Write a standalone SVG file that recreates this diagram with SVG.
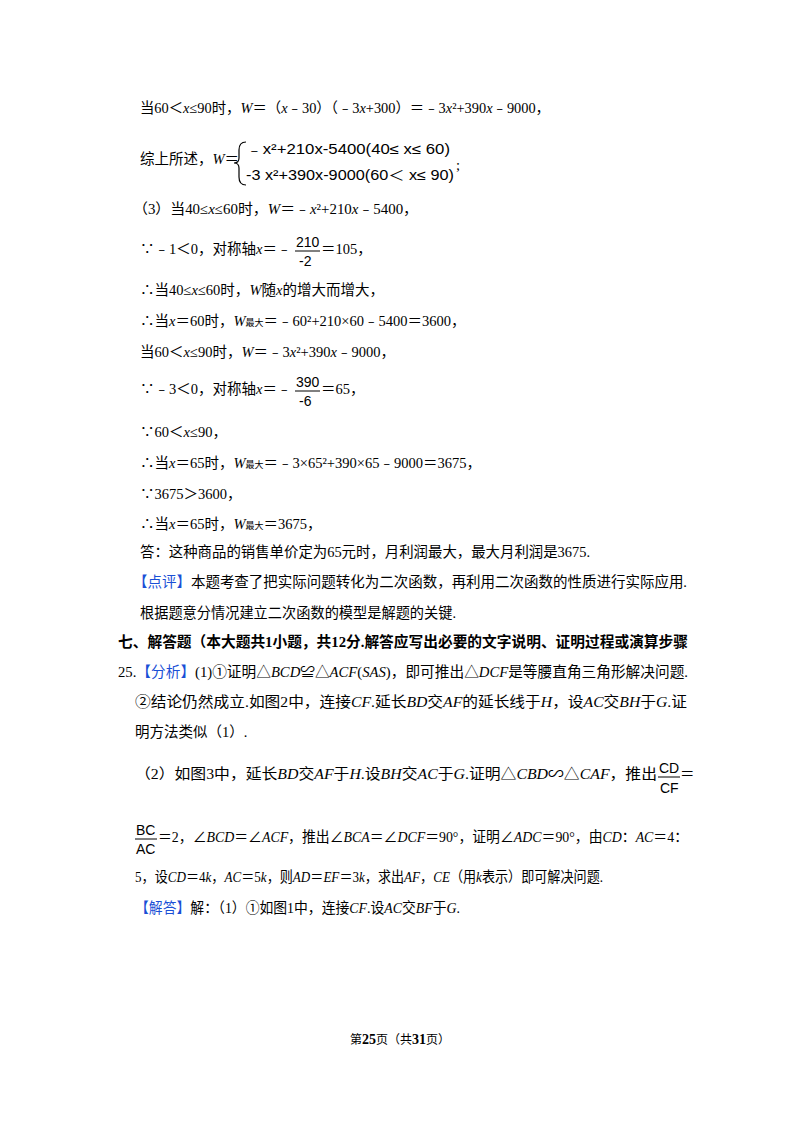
<svg xmlns="http://www.w3.org/2000/svg" width="800" height="1132" viewBox="0 0 800 1132">
<style>
text{font-family:"Liberation Serif","Noto Sans CJK SC",serif;font-size:14.5px;fill:#000}
.i{font-style:italic}
.s{font-size:9px}
.r{fill:#1a4fd6}
.b{font-weight:bold}
.f{font-family:"Liberation Sans","Noto Sans CJK SC",sans-serif;font-size:14px}
</style>
<rect width="800" height="1132" fill="#fff"/>
<g id="text">
<text x="140" y="113" textLength="410" lengthAdjust="spacingAndGlyphs">当60＜<tspan class="i">x</tspan>≤90时，<tspan class="i">W</tspan>＝（<tspan class="i">x</tspan>﹣30）（﹣3<tspan class="i">x</tspan>+300）＝﹣3<tspan class="i">x</tspan>²+390<tspan class="i">x</tspan>﹣9000，</text>
<text x="140" y="164">综上所述，<tspan class="i">W</tspan>＝</text>
<path d="M246 142 Q239 142 239 150 L239 158 Q239 163 234 163 Q239 163 239 168 L239 177 Q239 185 246 185" fill="none" stroke="#000" stroke-width="1.2"/>
<text class="f" x="246" y="154" textLength="204" lengthAdjust="spacingAndGlyphs">﹣x²+210x-5400(40≤ x≤ 60)</text>
<text class="f" x="246" y="180" textLength="208" lengthAdjust="spacingAndGlyphs">-3 x²+390x-9000(60＜ x≤ 90)</text>
<text x="456" y="170">;</text>
<text x="133" y="214" textLength="285" lengthAdjust="spacingAndGlyphs">（3）当40≤<tspan class="i">x</tspan>≤60时，<tspan class="i">W</tspan>＝﹣<tspan class="i">x</tspan>²+210<tspan class="i">x</tspan>﹣5400，</text>
<text x="140" y="254">∵﹣1＜0，对称轴<tspan class="i">x</tspan>＝﹣</text>
<text class="f" x="296" y="247">210</text><line x1="295" y1="251" x2="320" y2="251" stroke="#000"/><text class="f" x="299" y="266">-2</text>
<text x="321" y="254">＝105，</text>
<text x="140" y="295">∴当40≤<tspan class="i">x</tspan>≤60时，<tspan class="i">W</tspan>随<tspan class="i">x</tspan>的增大而增大，</text>
<text x="140" y="326">∴当<tspan class="i">x</tspan>＝60时，<tspan class="i">W</tspan><tspan class="s">最大</tspan>＝﹣60²+210×60﹣5400＝3600，</text>
<text x="140" y="357">当60＜<tspan class="i">x</tspan>≤90时，<tspan class="i">W</tspan>＝﹣3<tspan class="i">x</tspan>²+390<tspan class="i">x</tspan>﹣9000，</text>
<text x="140" y="394">∵﹣3＜0，对称轴<tspan class="i">x</tspan>＝﹣</text>
<text class="f" x="296" y="387">390</text><line x1="295" y1="391" x2="320" y2="391" stroke="#000"/><text class="f" x="299" y="406">-6</text>
<text x="321" y="394">＝65，</text>
<text x="140" y="437">∵60＜<tspan class="i">x</tspan>≤90，</text>
<text x="140" y="468">∴当<tspan class="i">x</tspan>＝65时，<tspan class="i">W</tspan><tspan class="s">最大</tspan>＝﹣3×65²+390×65﹣9000＝3675，</text>
<text x="140" y="499">∵3675＞3600，</text>
<text x="140" y="529">∴当<tspan class="i">x</tspan>＝65时，<tspan class="i">W</tspan><tspan class="s">最大</tspan>＝3675，</text>
<text x="140" y="557" textLength="450" lengthAdjust="spacingAndGlyphs">答：这种商品的销售单价定为65元时，月利润最大，最大月利润是3675.</text>
<text x="133" y="587" textLength="554" lengthAdjust="spacingAndGlyphs"><tspan class="r">【点评】</tspan>本题考查了把实际问题转化为二次函数，再利用二次函数的性质进行实际应用.</text>
<text x="140" y="618" textLength="316" lengthAdjust="spacingAndGlyphs">根据题意分情况建立二次函数的模型是解题的关键.</text>
<text class="b" x="118" y="647" textLength="570" lengthAdjust="spacingAndGlyphs">七、解答题（本大题共1小题，共12分.解答应写出必要的文字说明、证明过程或演算步骤</text>
<text x="118" y="677" textLength="570" lengthAdjust="spacingAndGlyphs">25.<tspan class="r">【分析】</tspan>(1)①证明△<tspan class="i">BCD</tspan>≌△<tspan class="i">ACF</tspan>(<tspan class="i">SAS</tspan>)，即可推出△<tspan class="i">DCF</tspan>是等腰直角三角形解决问题.</text>
<text x="135" y="707" textLength="552" lengthAdjust="spacingAndGlyphs">②结论仍然成立.如图2中，连接<tspan class="i">CF</tspan>.延长<tspan class="i">BD</tspan>交<tspan class="i">AF</tspan>的延长线于<tspan class="i">H</tspan>，设<tspan class="i">AC</tspan>交<tspan class="i">BH</tspan>于<tspan class="i">G</tspan>.证</text>
<text x="135" y="737">明方法类似（1）.</text>
<text x="135" y="779" textLength="522" lengthAdjust="spacingAndGlyphs">（2）如图3中，延长<tspan class="i">BD</tspan>交<tspan class="i">AF</tspan>于<tspan class="i">H</tspan>.设<tspan class="i">BH</tspan>交<tspan class="i">AC</tspan>于<tspan class="i">G</tspan>.证明△<tspan class="i">CBD</tspan>∽△<tspan class="i">CAF</tspan>，推出</text>
<text class="f" x="659" y="773">CD</text><line x1="658" y1="777" x2="680" y2="777" stroke="#000"/><text class="f" x="660" y="793">CF</text>
<text x="680" y="779">＝</text>
<text class="f" x="136" y="835">BC</text><line x1="135" y1="839" x2="157" y2="839" stroke="#000"/><text class="f" x="136" y="854">AC</text>
<text x="158" y="842" textLength="530" lengthAdjust="spacingAndGlyphs">＝2，∠<tspan class="i">BCD</tspan>＝∠<tspan class="i">ACF</tspan>，推出∠<tspan class="i">BCA</tspan>＝∠<tspan class="i">DCF</tspan>＝90°，证明∠<tspan class="i">ADC</tspan>＝90°，由<tspan class="i">CD</tspan>：<tspan class="i">AC</tspan>＝4：</text>
<text x="135" y="882" textLength="468" lengthAdjust="spacingAndGlyphs">5，设<tspan class="i">CD</tspan>＝4<tspan class="i">k</tspan>，<tspan class="i">AC</tspan>＝5<tspan class="i">k</tspan>，则<tspan class="i">AD</tspan>＝<tspan class="i">EF</tspan>＝3<tspan class="i">k</tspan>，求出<tspan class="i">AF</tspan>，<tspan class="i">CE</tspan>（用<tspan class="i">k</tspan>表示）即可解决问题.</text>
<text x="135" y="913" textLength="325" lengthAdjust="spacingAndGlyphs"><tspan class="r">【解答】</tspan>解：（1）①如图1中，连接<tspan class="i">CF</tspan>.设<tspan class="i">AC</tspan>交<tspan class="i">BF</tspan>于<tspan class="i">G</tspan>.</text>
<text x="400" y="1044" text-anchor="middle" style="font-size:12px">第<tspan class="b" style="font-size:14px">25</tspan>页（共<tspan class="b" style="font-size:14px">31</tspan>页）</text>
</g>
</svg>
